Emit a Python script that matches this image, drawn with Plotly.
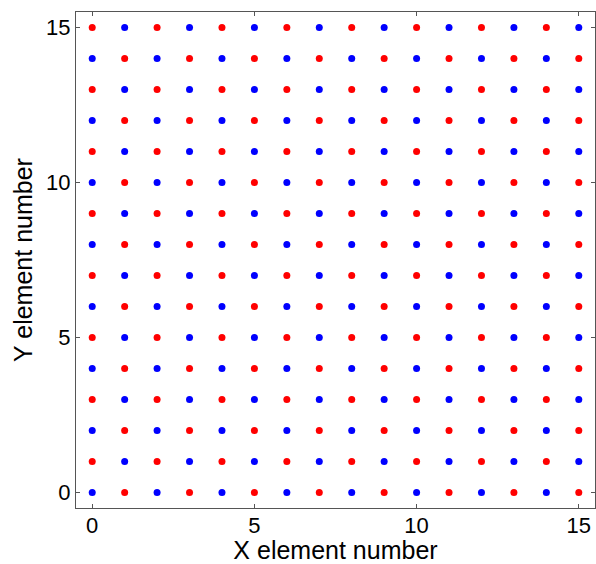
import plotly.graph_objects as go

# Data: 16x16 grid of elements, checkerboard coloured
x_elements = list(range(16))
y_elements = list(range(16))
tick_values = [0, 5, 10, 15]
tick_labels = ["0", "5", "10", "15"]

blue_x, blue_y, red_x, red_y = [], [], [], []
for yy in y_elements:
    for xx in x_elements:
        if (xx + yy) % 2 == 0:
            blue_x.append(xx); blue_y.append(yy)
        else:
            red_x.append(xx); red_y.append(yy)

fig = go.Figure()
fig.add_trace(go.Scatter(x=blue_x, y=blue_y, mode="markers",
                         marker=dict(color="#0000ff", size=7, line=dict(width=0)),
                         showlegend=False, hoverinfo="skip"))
fig.add_trace(go.Scatter(x=red_x, y=red_y, mode="markers",
                         marker=dict(color="#ff0000", size=7, line=dict(width=0)),
                         showlegend=False, hoverinfo="skip"))

FONT = "Liberation Sans, Arial, sans-serif"
axis_common = dict(
    range=[-0.5, 15.5], tickvals=tick_values, ticktext=tick_labels,
    ticks="inside", ticklen=4, tickwidth=1, tickcolor="#555",
    showline=True, linecolor="#555", linewidth=1, mirror="ticks",
    showgrid=False, zeroline=False,
    tickfont=dict(family=FONT, size=22, color="black"),
)

fig.update_layout(
    width=596, height=564,
    margin=dict(l=76, r=1, t=12, b=56),
    plot_bgcolor="white", paper_bgcolor="white",
    xaxis=dict(**axis_common, ticklabelstandoff=-2,
               title=dict(text="X element number", standoff=1,
                          font=dict(family=FONT, size=25, color="black"))),
    yaxis=dict(**axis_common,
               title=dict(text="Y element number", standoff=6,
                          font=dict(family=FONT, size=25, color="black"))),
)

fig.write_html("out.html")
